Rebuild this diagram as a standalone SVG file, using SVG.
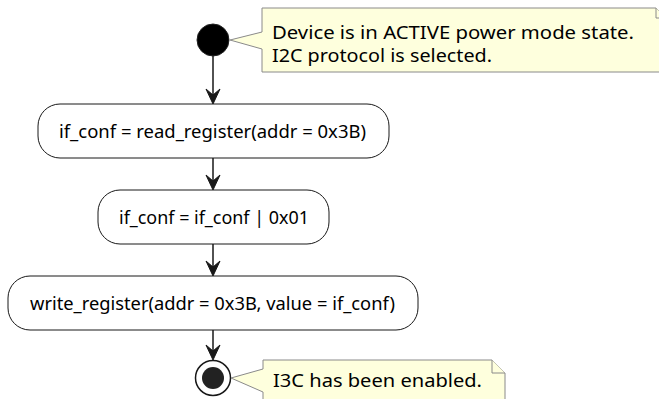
<svg xmlns="http://www.w3.org/2000/svg" width="659" height="399" viewBox="0 0 659 399">
<defs>
<style>
.act{fill:#FFFFFF;stroke:#181818;stroke-width:1}
.note{fill:#FEFFDD;stroke:#8A8A8A;stroke-width:1}
.t{font-family:"Noto Sans","Open Sans","DejaVu Sans",sans-serif;font-size:17.5px;fill:#000}
.ln{stroke:#181818;stroke-width:1.5;fill:none}
.ah{fill:#181818;stroke:#181818;stroke-width:1}
</style>
</defs>
<rect width="659" height="399" fill="#FFFFFF"/>
<g id="start">
<circle cx="213" cy="40" r="16" fill="#000" stroke="#222" stroke-width="1"/>
</g>
<g id="note1">
<path class="note" d="M262,8 L656,8 L666,18 L666,72 L262,72 L262,49 L230,40 L262,32 Z"/>
<path class="note" d="M656,8 L656,18 L666,18"/>
<text class="t" x="272" y="39" textLength="362" lengthAdjust="spacingAndGlyphs">Device is in ACTIVE power mode state.</text>
<text class="t" x="272" y="62" textLength="220" lengthAdjust="spacingAndGlyphs">I2C protocol is selected.</text>
</g>
<g id="act1">
<rect class="act" x="38" y="104" width="351" height="54" rx="22" ry="22"/>
<text class="t" x="59" y="138" textLength="307" lengthAdjust="spacingAndGlyphs">if_conf = read_register(addr = 0x3B)</text>
</g>
<g id="act2">
<rect class="act" x="98" y="190" width="231" height="54" rx="22" ry="22"/>
<text class="t" x="119" y="224" textLength="190" lengthAdjust="spacingAndGlyphs">if_conf = if_conf | 0x01</text>
</g>
<g id="act3">
<rect class="act" x="8" y="276" width="410" height="54" rx="22" ry="22"/>
<text class="t" x="30" y="310" textLength="365" lengthAdjust="spacingAndGlyphs">write_register(addr = 0x3B, value = if_conf)</text>
</g>
<g id="end">
<circle cx="213" cy="378" r="17.5" fill="#FFFFFF" stroke="#181818" stroke-width="1.5"/>
<circle cx="213" cy="378" r="11" fill="#222"/>
</g>
<g id="note2">
<path class="note" d="M263,360 L492,360 L505,373 L505,405 L263,405 L263,392 L231,378 L263,369 Z"/>
<path class="note" d="M492,360 L492,373 L505,373"/>
<text class="t" x="273" y="387" textLength="209" lengthAdjust="spacingAndGlyphs">I3C has been enabled.</text>
</g>
<g id="connectors">
<line class="ln" x1="213" y1="56" x2="213" y2="100"/>
<path class="ah" d="M213,104 L206,89 L213,95 L220,89 Z"/>
<line class="ln" x1="213" y1="158" x2="213" y2="186"/>
<path class="ah" d="M213,190 L206,175 L213,181 L220,175 Z"/>
<line class="ln" x1="213" y1="244" x2="213" y2="272"/>
<path class="ah" d="M213,276 L206,261 L213,267 L220,261 Z"/>
<line class="ln" x1="213" y1="330" x2="213" y2="356"/>
<path class="ah" d="M213,360 L206,345 L213,351 L220,345 Z"/>
</g>
</svg>
